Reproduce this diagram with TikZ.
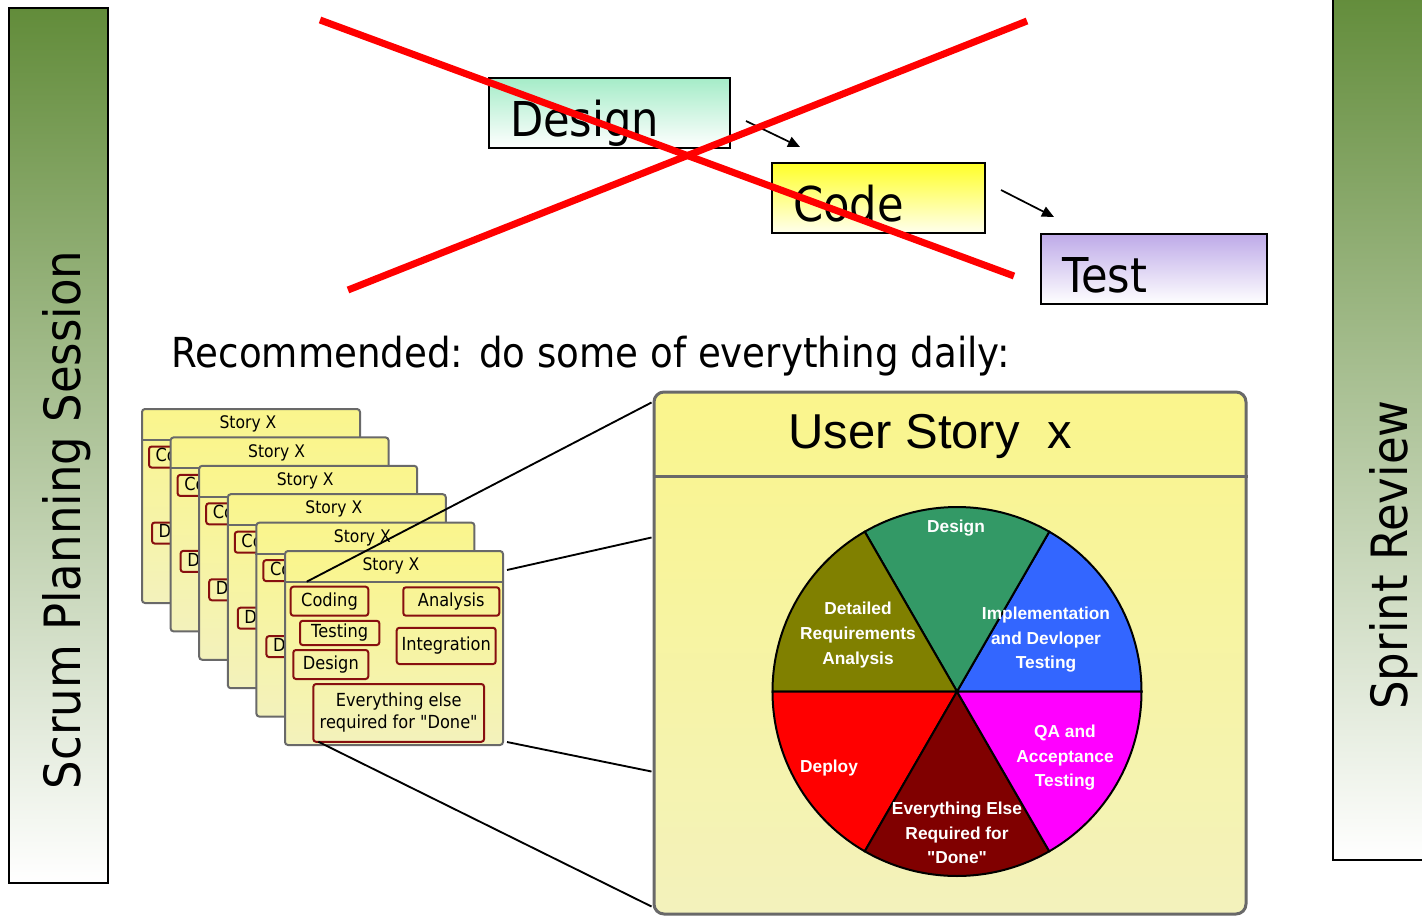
\documentclass[tikz,border=0pt]{standalone}
\usepackage{fontspec}
\setmainfont{Liberation Sans}
\newfontfamily\arialfont{Liberation Sans}
\newfontfamily\tahoma[FakeStretch=0.9]{DejaVu Sans}
\usetikzlibrary{arrows.meta,calc}

\definecolor{barGreen}{RGB}{98,140,58}
\definecolor{designTop}{RGB}{165,236,200}
\definecolor{codeTop}{RGB}{255,255,40}
\definecolor{testTop}{RGB}{190,170,232}
\definecolor{noteYellow}{RGB}{250,245,140}
\definecolor{notePale}{RGB}{243,242,188}
\definecolor{noteFrame}{RGB}{105,105,105}
\definecolor{taskRed}{RGB}{135,15,15}
\definecolor{pieGreen}{RGB}{51,153,102}
\definecolor{pieBlue}{RGB}{51,102,255}
\definecolor{pieOlive}{RGB}{128,128,0}
\definecolor{pieRed}{RGB}{255,0,0}
\definecolor{pieMaroon}{RGB}{128,0,0}
\definecolor{pieMagenta}{RGB}{255,0,255}

\tikzset{every picture/.style={line width=0.75pt}}
\tikzset{
  sidebar/.style={draw=black, line width=1.8pt, top color=barGreen, middle color=barGreen!45!white, bottom color=white, inner sep=0pt},
  sidelabel/.style={rotate=90, anchor=base, inner sep=0pt, font=\tahoma\fontsize{37.5}{40}\selectfont},
  stagebox/.style={draw=black, line width=1.5pt, bottom color=white, align=left, inner xsep=15.75pt, inner ysep=0pt, minimum height=52.5pt, text height=34.5pt, text depth=0pt, font=\tahoma\fontsize{36}{36}\selectfont},
  stagearrow/.style={-{Triangle[length=9pt,width=8pt]}, line width=1.3pt},
  crossline/.style={red, line width=5.25pt},
  notecard/.style={draw=noteFrame, line width=1.5pt, rounded corners=2.25pt, top color=noteYellow, bottom color=notePale, minimum width=163.5pt, minimum height=145.5pt, anchor=north west, inner sep=0pt},
  noteline/.style={noteFrame, line width=1.5pt},
  notetitle/.style={font=\tahoma\fontsize{13}{13}\selectfont, inner sep=0pt},
  taskbox/.style={draw=taskRed, line width=1.5pt, rounded corners=2pt, inner sep=0pt, align=center, font=\tahoma\fontsize{13.5}{16.5}\selectfont},
  stubbox/.style={taskbox, anchor=west, inner xsep=5pt, minimum height=15.75pt},
  storybox/.style={draw=noteFrame, line width=2.25pt, rounded corners=7.5pt, top color=noteYellow, bottom color=notePale, minimum width=444pt, minimum height=391.5pt, inner sep=0pt},
  storytitle/.style={anchor=base, inner sep=0pt, font=\arialfont\fontsize{36.75}{36.75}\selectfont},
  sliceline/.style={draw=black, line width=1.5pt},
  slicelabel/.style={text=white, align=center, inner sep=0pt, font=\arialfont\bfseries\fontsize{13}{18.4}\selectfont},
  zoomline/.style={black, line width=1.4pt}
}

\begin{document}
\begin{tikzpicture}[x=0.75pt,y=0.75pt,yscale=-1,xscale=1]
\useasboundingbox (0,0) rectangle (1422,918);

%Side bars
\node[sidebar, minimum width=74.25pt, minimum height=656.25pt] (planning) at (58.5,445.5) {};
\node[sidelabel] (planningtext) at (80,520) {Scrum Planning Session};
\node[sidebar, minimum width=80.25pt, minimum height=652.5pt] (review) at (1386.5,425) {};
\node[sidelabel] (reviewtext) at (1407,555) {Sprint Review};

%Waterfall boxes
\node[stagebox, top color=designTop, text width=149.25pt] (design) at (609.5,113) {Design};
\node[stagebox, top color=codeTop, bottom color=codeTop!8!white, text width=128.25pt] (code) at (878.5,198) {Code};
\node[stagebox, top color=testTop, text width=138pt] (test) at (1154,269) {Test};
\draw[stagearrow] ($(design.east)+(15,8)$) -- ($(code.north west)+(29,-15)$);
\draw[stagearrow] ($(code.east)+(15,-8)$) -- ($(test.north west)+(14,-16)$);

%Red cross
\draw[crossline] (320,20) -- (1014,276);
\draw[crossline] (348,290) -- (1027,21);

% Text Node
\node[anchor=base west, inner sep=0pt, font=\tahoma\fontsize{31}{31}\selectfont] (advice) at (171,367) {Recommended: do some of everything daily:};

%Stack of story cards
\foreach \k in {0,...,5}{
  \pgfmathsetmacro{\cx}{141+28.6*\k}
  \pgfmathsetmacro{\cy}{408+28.4*\k}
  \node[notecard] (card\k) at (\cx,\cy) {};
  \draw[noteline] ($(card\k.north west)+(0,32)$) -- ($(card\k.north east)+(0,32)$);
  \node[notetitle] (title\k) at ($(card\k.north west)+(107,16)$) {Story X};
  \ifnum\k<5
    \node[stubbox] (coding\k) at ($(card\k.north west)+(7,49)$) {Coding};
    \node[stubbox] (design\k) at ($(card\k.north west)+(10,125)$) {Design};
  \fi
}

%Tasks on the front card
\node[taskbox, minimum width=58.2pt, minimum height=21.75pt] (coding) at (329.5,601.2) {Coding};
\node[taskbox, minimum width=72pt, minimum height=21.3pt] (analysis) at (451.3,601.5) {Analysis};
\node[taskbox, minimum width=59.5pt, minimum height=18.2pt] (testing) at (339.7,632.9) {Testing};
\node[taskbox, minimum width=74.25pt, minimum height=27.2pt] (integration) at (446.2,645.9) {Integration};
\node[taskbox, minimum width=56.25pt, minimum height=21.75pt] (designtask) at (330.8,664.5) {Design};
\node[taskbox, minimum width=128pt, minimum height=43.3pt] (everything) at (398.7,712.9) {Everything else\\required for "Done"};

%User story card
\node[storybox] (story) at (950,653) {};
\draw[noteline, line width=2.25pt] ($(story.north west)+(0,85.6)$) -- ($(story.north east)+(0,85.6)$);
\node[storytitle] (storyname) at (930,448) {User Story\ \ x};

%Pie of activities
\coordinate (pie) at (957,691.5);
\foreach \a/\col in {0/pieBlue,60/pieGreen,120/pieOlive,180/pieRed,240/pieMaroon,300/pieMagenta}
  \filldraw[sliceline, fill=\col] (pie) -- ++(-\a:184.5) arc[start angle=-\a, end angle=-\a-60, radius=184.5] -- cycle;

\node[slicelabel] (lbldesign) at (956,528) {Design};
\node[slicelabel] (lblreq) at (858,635) {Detailed\\Requirements\\Analysis};
\node[slicelabel] (lblimpl) at (1046,640) {Implementation\\and Devloper\\Testing};
\node[slicelabel] (lbldeploy) at (829,768) {Deploy};
\node[slicelabel] (lblelse) at (957,833) {Everything Else\\Required for\\"Done"};
\node[slicelabel] (lblqa) at (1065,758) {QA and\\Acceptance\\Testing};

%Zoom lines
\draw[zoomline] ($(coding.north west)+(17,-4)$) -- ($(story.north west)+(-1,12)$);
\draw[zoomline] ($(card5.north east)+(3,20)$) -- ($(story.north west)+(-1,147)$);
\draw[zoomline] ($(card5.south east)+(3,-4)$) -- ($(story.north west)+(-1,381)$);
\draw[zoomline] ($(everything.south west)+(6,-1)$) -- ($(story.south west)+(-1,-9)$);

\end{tikzpicture}
\end{document}
